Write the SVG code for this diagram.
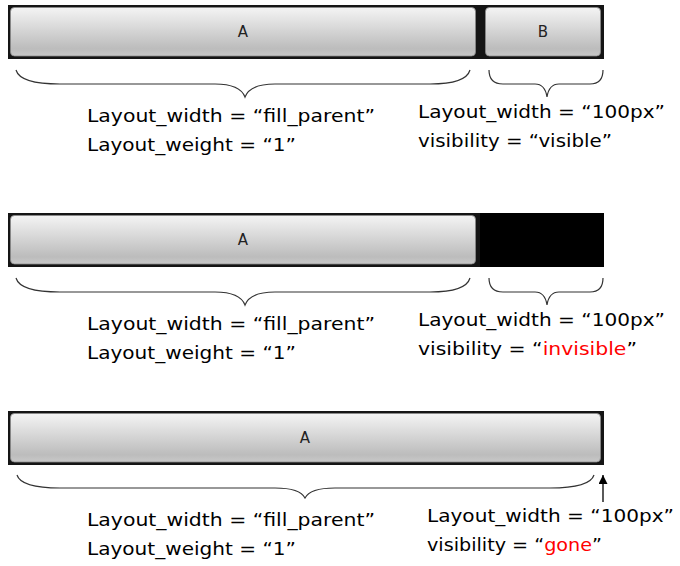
<svg xmlns="http://www.w3.org/2000/svg" width="680" height="566" viewBox="0 0 680 566">
<defs>
<linearGradient id="btn" x1="0" y1="0" x2="0" y2="1">
<stop offset="0" stop-color="#f4f4f4"/>
<stop offset="0.85" stop-color="#bcbcbc"/>
<stop offset="1" stop-color="#c8c8c8"/>
</linearGradient>
<marker id="arr" viewBox="0 0 10 10" refX="10" refY="5" markerWidth="9" markerHeight="9" markerUnits="userSpaceOnUse" orient="auto">
<path d="M0,0 L10,5 L0,10 Z" fill="#000"/>
</marker>
</defs>
<style>
.bar{fill:#151515}
.btn{fill:url(#btn);stroke:#8a8a8a;stroke-width:0.8}
.bl{font-family:"DejaVu Sans","Liberation Sans",sans-serif;font-size:15px;fill:#222;text-anchor:middle}
.t{font-family:"DejaVu Sans","Verdana",sans-serif;font-size:18px;fill:#000}
.red{fill:#ff0000}
.brace{fill:none;stroke:#333;stroke-width:1.2}
</style>
<rect width="680" height="566" fill="#fff"/>

<g id="row1">
<rect class="bar" x="8" y="5" width="596" height="54"/>
<g id="r1-A"><rect class="btn" x="10.5" y="7.5" width="465" height="48.5" rx="4"/><text class="bl" x="243" y="37">A</text></g>
<g id="r1-B"><rect class="btn" x="485.5" y="7.5" width="115" height="48.5" rx="4"/><text class="bl" x="543" y="37">B</text></g>
<g id="r1-labelA"><text class="t" x="87" y="122" textLength="288" lengthAdjust="spacingAndGlyphs">Layout_width = “fill_parent”</text><text class="t" x="87" y="151" textLength="209" lengthAdjust="spacingAndGlyphs">Layout_weight = “1”</text></g>
<g id="r1-labelB"><text class="t" x="418" y="118" textLength="247" lengthAdjust="spacingAndGlyphs">Layout_width = “100px”</text><text class="t" x="418" y="147" textLength="194" lengthAdjust="spacingAndGlyphs">visibility = “visible”</text></g>
</g>

<g id="row2">
<rect class="bar" x="8" y="213" width="596" height="54"/>
<rect x="480" y="213" width="124" height="54" fill="#000"/>
<g id="r2-A"><rect class="btn" x="10.5" y="215.5" width="465" height="48.5" rx="4"/><text class="bl" x="243" y="245">A</text></g>
<g id="r2-labelA"><text class="t" x="87" y="330" textLength="288" lengthAdjust="spacingAndGlyphs">Layout_width = “fill_parent”</text><text class="t" x="87" y="359" textLength="209" lengthAdjust="spacingAndGlyphs">Layout_weight = “1”</text></g>
<g id="r2-labelB"><text class="t" x="418" y="326" textLength="247" lengthAdjust="spacingAndGlyphs">Layout_width = “100px”</text><text class="t" x="418" y="355" textLength="219" lengthAdjust="spacingAndGlyphs">visibility = “<tspan class="red">invisible</tspan>”</text></g>
</g>

<g id="row3">
<rect class="bar" x="8" y="411" width="596" height="54"/>
<g id="r3-A"><rect class="btn" x="10.5" y="413.5" width="590" height="48.5" rx="4"/><text class="bl" x="305" y="443">A</text></g>
<g id="r3-labelA"><text class="t" x="87" y="526" textLength="288" lengthAdjust="spacingAndGlyphs">Layout_width = “fill_parent”</text><text class="t" x="87" y="555" textLength="209" lengthAdjust="spacingAndGlyphs">Layout_weight = “1”</text></g>
<g id="r3-labelB"><text class="t" x="427" y="522" textLength="247" lengthAdjust="spacingAndGlyphs">Layout_width = “100px”</text><text class="t" x="427" y="551" textLength="175" lengthAdjust="spacingAndGlyphs">visibility = “<tspan class="red">gone</tspan>”</text></g>
</g>

<g id="connectors">
<path class="brace" d="M16,70 Q20,84 60,84 L215,84 Q240,84 245,97 Q250,84 275,84 L430,84 Q466,84 470,70"/>
<path class="brace" d="M489,70 Q489,84 503,84 L535,84 Q545,84 547,97 Q549,84 559,84 L590,84 Q603,84 603,70"/>
<path class="brace" d="M16,278 Q20,292 60,292 L215,292 Q240,292 245,305 Q250,292 275,292 L430,292 Q466,292 470,278"/>
<path class="brace" d="M489,278 Q489,292 503,292 L535,292 Q545,292 547,305 Q549,292 559,292 L590,292 Q603,292 603,278"/>
<path class="brace" d="M17,475 Q21,488 60,488 L275,488 Q300,488 305,498 Q310,488 335,488 L550,488 Q590,488 594,475"/>
<line x1="603" y1="502" x2="603" y2="475" stroke="#000" stroke-width="1.3" marker-end="url(#arr)"/>
</g>
</svg>
